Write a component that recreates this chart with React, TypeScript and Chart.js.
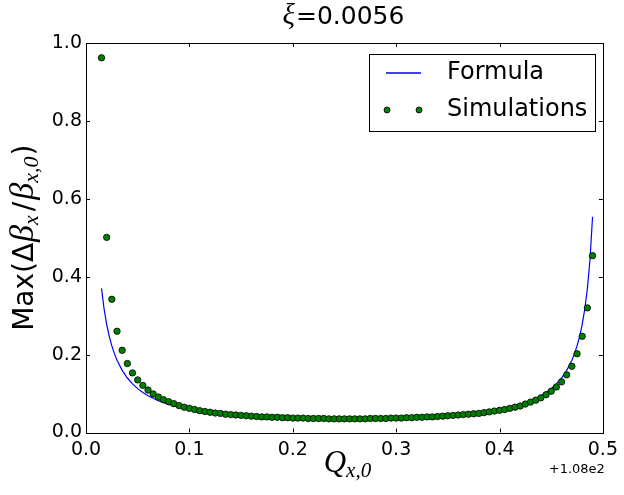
import React, { useEffect, useRef } from 'react';
import { Chart, registerables } from 'chart.js';
Chart.register(...registerables);

const simQ = [
  0.015, 0.02, 0.025, 0.03, 0.035, 0.04, 0.045, 0.05, 0.055, 0.06,
  0.065, 0.07, 0.075, 0.08, 0.085, 0.09, 0.095, 0.1, 0.105, 0.11,
  0.115, 0.12, 0.125, 0.13, 0.135, 0.14, 0.145, 0.15, 0.155, 0.16,
  0.165, 0.17, 0.175, 0.18, 0.185, 0.19, 0.195, 0.2, 0.205, 0.21,
  0.215, 0.22, 0.225, 0.23, 0.235, 0.24, 0.245, 0.25, 0.255, 0.26,
  0.265, 0.27, 0.275, 0.28, 0.285, 0.29, 0.295, 0.3, 0.305, 0.31,
  0.315, 0.32, 0.325, 0.33, 0.335, 0.34, 0.345, 0.35, 0.355, 0.36,
  0.365, 0.37, 0.375, 0.38, 0.385, 0.39, 0.395, 0.4, 0.405, 0.41,
  0.415, 0.42, 0.425, 0.43, 0.435, 0.44, 0.445, 0.45, 0.455, 0.46,
  0.465, 0.47, 0.475, 0.48, 0.485, 0.49,
];
const simMax = [
  0.962, 0.501, 0.342, 0.26, 0.211, 0.177, 0.153, 0.135, 0.121, 0.109,
  0.099, 0.091, 0.084, 0.079, 0.074, 0.069, 0.065, 0.062, 0.059, 0.056,
  0.054, 0.052, 0.05, 0.049, 0.047, 0.046, 0.045, 0.044, 0.043, 0.042,
  0.041, 0.04, 0.04, 0.039, 0.039, 0.038, 0.038, 0.037, 0.037, 0.037,
  0.036, 0.036, 0.036, 0.036, 0.035, 0.035, 0.035, 0.035, 0.035, 0.035,
  0.035, 0.035, 0.036, 0.036, 0.036, 0.036, 0.037, 0.037, 0.037, 0.038,
  0.038, 0.039, 0.039, 0.04, 0.04, 0.041, 0.042, 0.043, 0.044, 0.045,
  0.046, 0.047, 0.048, 0.049, 0.051, 0.053, 0.055, 0.057, 0.059, 0.062,
  0.065, 0.068, 0.073, 0.078, 0.083, 0.089, 0.097, 0.106, 0.117, 0.13,
  0.148, 0.17, 0.202, 0.247, 0.32, 0.454,
];
const formulaQ = [
  0.015, 0.0175, 0.02, 0.0225, 0.025, 0.0275, 0.03, 0.035, 0.04, 0.045,
  0.05, 0.055, 0.06, 0.07, 0.08, 0.09, 0.1, 0.12, 0.14, 0.16,
  0.18, 0.2, 0.22, 0.24, 0.25, 0.26, 0.28, 0.3, 0.32, 0.34,
  0.36, 0.38, 0.4, 0.41, 0.42, 0.43, 0.44, 0.445, 0.45, 0.455,
  0.46, 0.465, 0.47, 0.4725, 0.475, 0.4775, 0.48, 0.4825, 0.485, 0.4875, 0.49,
];
const formulaMax = [
  0.37, 0.3171, 0.2777, 0.247, 0.2225, 0.2024, 0.1857, 0.1595, 0.1399, 0.1247,
  0.1126, 0.1027, 0.0945, 0.0817, 0.0722, 0.0649, 0.0592, 0.0508, 0.0452, 0.0412,
  0.0385, 0.0366, 0.0354, 0.0349, 0.0348, 0.0349, 0.0354, 0.0366, 0.0385, 0.0412,
  0.0452, 0.0508, 0.0592, 0.0649, 0.0722, 0.0817, 0.0945, 0.1027, 0.1126, 0.1247,
  0.1399, 0.1595, 0.1857, 0.2024, 0.2225, 0.247, 0.2777, 0.3171, 0.37, 0.4435, 0.554,
];
const xTicks = [0, 0.1, 0.2, 0.3, 0.4, 0.5];
const yTicks = [0, 0.2, 0.4, 0.6, 0.8, 1.0];
const seriesNames = ['Formula', 'Simulations'];
const titleSymbol = 'ξ';
const titleValue = '=0.0056';
const xOffsetText = '+1.08e2';

const SANS = '"DejaVu Sans"';
const MATH = '"Liberation Serif"';

type Seg = { t: string; font: string; dy?: number; gap?: number };

function segsWidth(ctx: CanvasRenderingContext2D, segs: Seg[]) {
  let w = 0;
  for (const s of segs) {
    ctx.font = s.font;
    w += ctx.measureText(s.t).width + (s.gap || 0);
  }
  return w;
}

function drawSegs(ctx: CanvasRenderingContext2D, segs: Seg[], cx: number, baseline: number) {
  const total = segsWidth(ctx, segs);
  let x = cx - total / 2;
  ctx.textAlign = 'left';
  ctx.textBaseline = 'alphabetic';
  for (const s of segs) {
    ctx.font = s.font;
    ctx.fillText(s.t, x, baseline + (s.dy || 0));
    x += ctx.measureText(s.t).width + (s.gap || 0);
  }
}

const decorPlugin = {
  id: 'decor',
  afterDraw(chart: any) {
    const { ctx, chartArea: a, scales } = chart;
    const xs = scales.x;
    const ys = scales.y;
    ctx.save();
    ctx.fillStyle = '#000';
    ctx.strokeStyle = '#000';
    ctx.lineWidth = 1;
    // axes box
    ctx.strokeRect(Math.round(a.left) + 0.5, Math.round(a.top) + 0.5, Math.round(a.right - a.left), Math.round(a.bottom - a.top));
    // inward ticks
    ctx.beginPath();
    for (const v of xTicks) {
      const px = Math.round(xs.getPixelForValue(v)) + 0.5;
      ctx.moveTo(px, a.bottom);
      ctx.lineTo(px, a.bottom - 4);
      ctx.moveTo(px, a.top);
      ctx.lineTo(px, a.top + 4);
    }
    for (const v of yTicks) {
      const py = Math.round(ys.getPixelForValue(v)) + 0.5;
      ctx.moveTo(a.left, py);
      ctx.lineTo(a.left + 4, py);
      ctx.moveTo(a.right, py);
      ctx.lineTo(a.right - 4, py);
    }
    ctx.stroke();

    // title
    drawSegs(ctx, [
      { t: titleSymbol, font: `italic 29px ${MATH}`, gap: 1 },
      { t: titleValue, font: `25px ${SANS}` },
    ], (a.left + a.right) / 2 - 1, 24);

    // x offset text
    ctx.font = `13px ${SANS}`;
    ctx.textAlign = 'right';
    ctx.textBaseline = 'alphabetic';
    ctx.fillText(xOffsetText, a.right + 2, 473);

    // x label
    drawSegs(ctx, [
      { t: 'Q', font: `italic 31px ${MATH}` },
      { t: 'x,0', font: `italic 21px ${MATH}`, dy: 5 },
    ], (a.left + a.right) / 2 + 3, 472);

    // y label
    ctx.save();
    ctx.translate(33, (a.top + a.bottom) / 2);
    ctx.rotate(-Math.PI / 2);
    drawSegs(ctx, [
      { t: 'Max(', font: `28px ${SANS}` },
      { t: 'Δ', font: `28px ${SANS}`, gap: 1 },
      { t: 'β', font: `italic 34px ${MATH}` },
      { t: 'x', font: `italic 22px ${MATH}`, dy: 5, gap: 4 },
      { t: '/', font: `28px ${SANS}`, gap: 2 },
      { t: 'β', font: `italic 34px ${MATH}` },
      { t: 'x,0', font: `italic 22px ${MATH}`, dy: 5, gap: 1 },
      { t: ')', font: `28px ${SANS}` },
    ], 0, 0);
    ctx.restore();

    // legend
    const lx = 369.5, ly = 54.5, lw = 226, lh = 77;
    ctx.fillStyle = '#fff';
    ctx.fillRect(lx, ly, lw, lh);
    ctx.strokeStyle = '#000';
    ctx.lineWidth = 1;
    ctx.strokeRect(lx, ly, lw, lh);
    ctx.strokeStyle = '#0000ff';
    ctx.lineWidth = 1.3;
    ctx.beginPath();
    ctx.moveTo(386, 73);
    ctx.lineTo(421, 73);
    ctx.stroke();
    for (const mx of [387, 419]) {
      ctx.beginPath();
      ctx.arc(mx, 110, 3, 0, Math.PI * 2);
      ctx.fillStyle = '#008000';
      ctx.fill();
      ctx.strokeStyle = '#000';
      ctx.lineWidth = 0.8;
      ctx.stroke();
    }
    ctx.fillStyle = '#000';
    ctx.font = `24px ${SANS}`;
    ctx.textAlign = 'left';
    ctx.textBaseline = 'middle';
    ctx.fillText(seriesNames[0], 447, 73);
    ctx.fillText(seriesNames[1], 447, 110);
    ctx.restore();
  },
};

export default function App() {
  const ref = useRef<HTMLCanvasElement | null>(null);
  useEffect(() => {
    if (!ref.current) return;
    const chart = new Chart(ref.current, {
      type: 'scatter',
      data: {
        datasets: [
          {
            label: seriesNames[0],
            data: formulaQ.map((q, i) => ({ x: q, y: formulaMax[i] })),
            showLine: true,
            borderColor: '#0000ff',
            borderWidth: 1.2,
            pointRadius: 0,
            fill: false,
            order: 1,
          },
          {
            label: seriesNames[1],
            data: simQ.map((q, i) => ({ x: q, y: simMax[i] })),
            showLine: false,
            pointRadius: 3.2,
            pointHoverRadius: 3.2,
            backgroundColor: '#008000',
            borderColor: '#000000',
            borderWidth: 0.8,
            order: 0,
          },
        ],
      },
      options: {
        responsive: false,
        animation: false,
        devicePixelRatio: 1,
        layout: { padding: { left: 0, top: 43, right: 17, bottom: 0 } },
        plugins: { legend: { display: false }, tooltip: { enabled: false }, title: { display: false } },
        scales: {
          x: {
            type: 'linear',
            min: 0,
            max: 0.5,
            grid: { display: false, drawTicks: false },
            border: { display: false },
            afterBuildTicks: (s: any) => { s.ticks = xTicks.map((v) => ({ value: v })); },
            afterFit: (s: any) => { s.height = 62.5; },
            ticks: {
              padding: 6,
              color: '#000',
              font: { family: 'DejaVu Sans', size: 19 },
              maxRotation: 0,
              callback: (v: any) => Number(v).toFixed(1),
            },
          },
          y: {
            type: 'linear',
            min: 0,
            max: 1,
            grid: { display: false, drawTicks: false },
            border: { display: false },
            afterBuildTicks: (s: any) => { s.ticks = yTicks.map((v) => ({ value: v })); },
            afterFit: (s: any) => { s.width = 86; },
            ticks: {
              padding: 4,
              color: '#000',
              font: { family: 'DejaVu Sans', size: 19 },
              callback: (v: any) => Number(v).toFixed(1),
            },
          },
        },
      },
      plugins: [decorPlugin],
    });
    return () => chart.destroy();
  }, []);
  return (
    <div style={{ position: 'absolute', left: 0, top: 0, width: 624, height: 495, background: '#fff' }}>
      <canvas ref={ref} width={624} height={495} style={{ display: 'block' }} />
    </div>
  );
}
